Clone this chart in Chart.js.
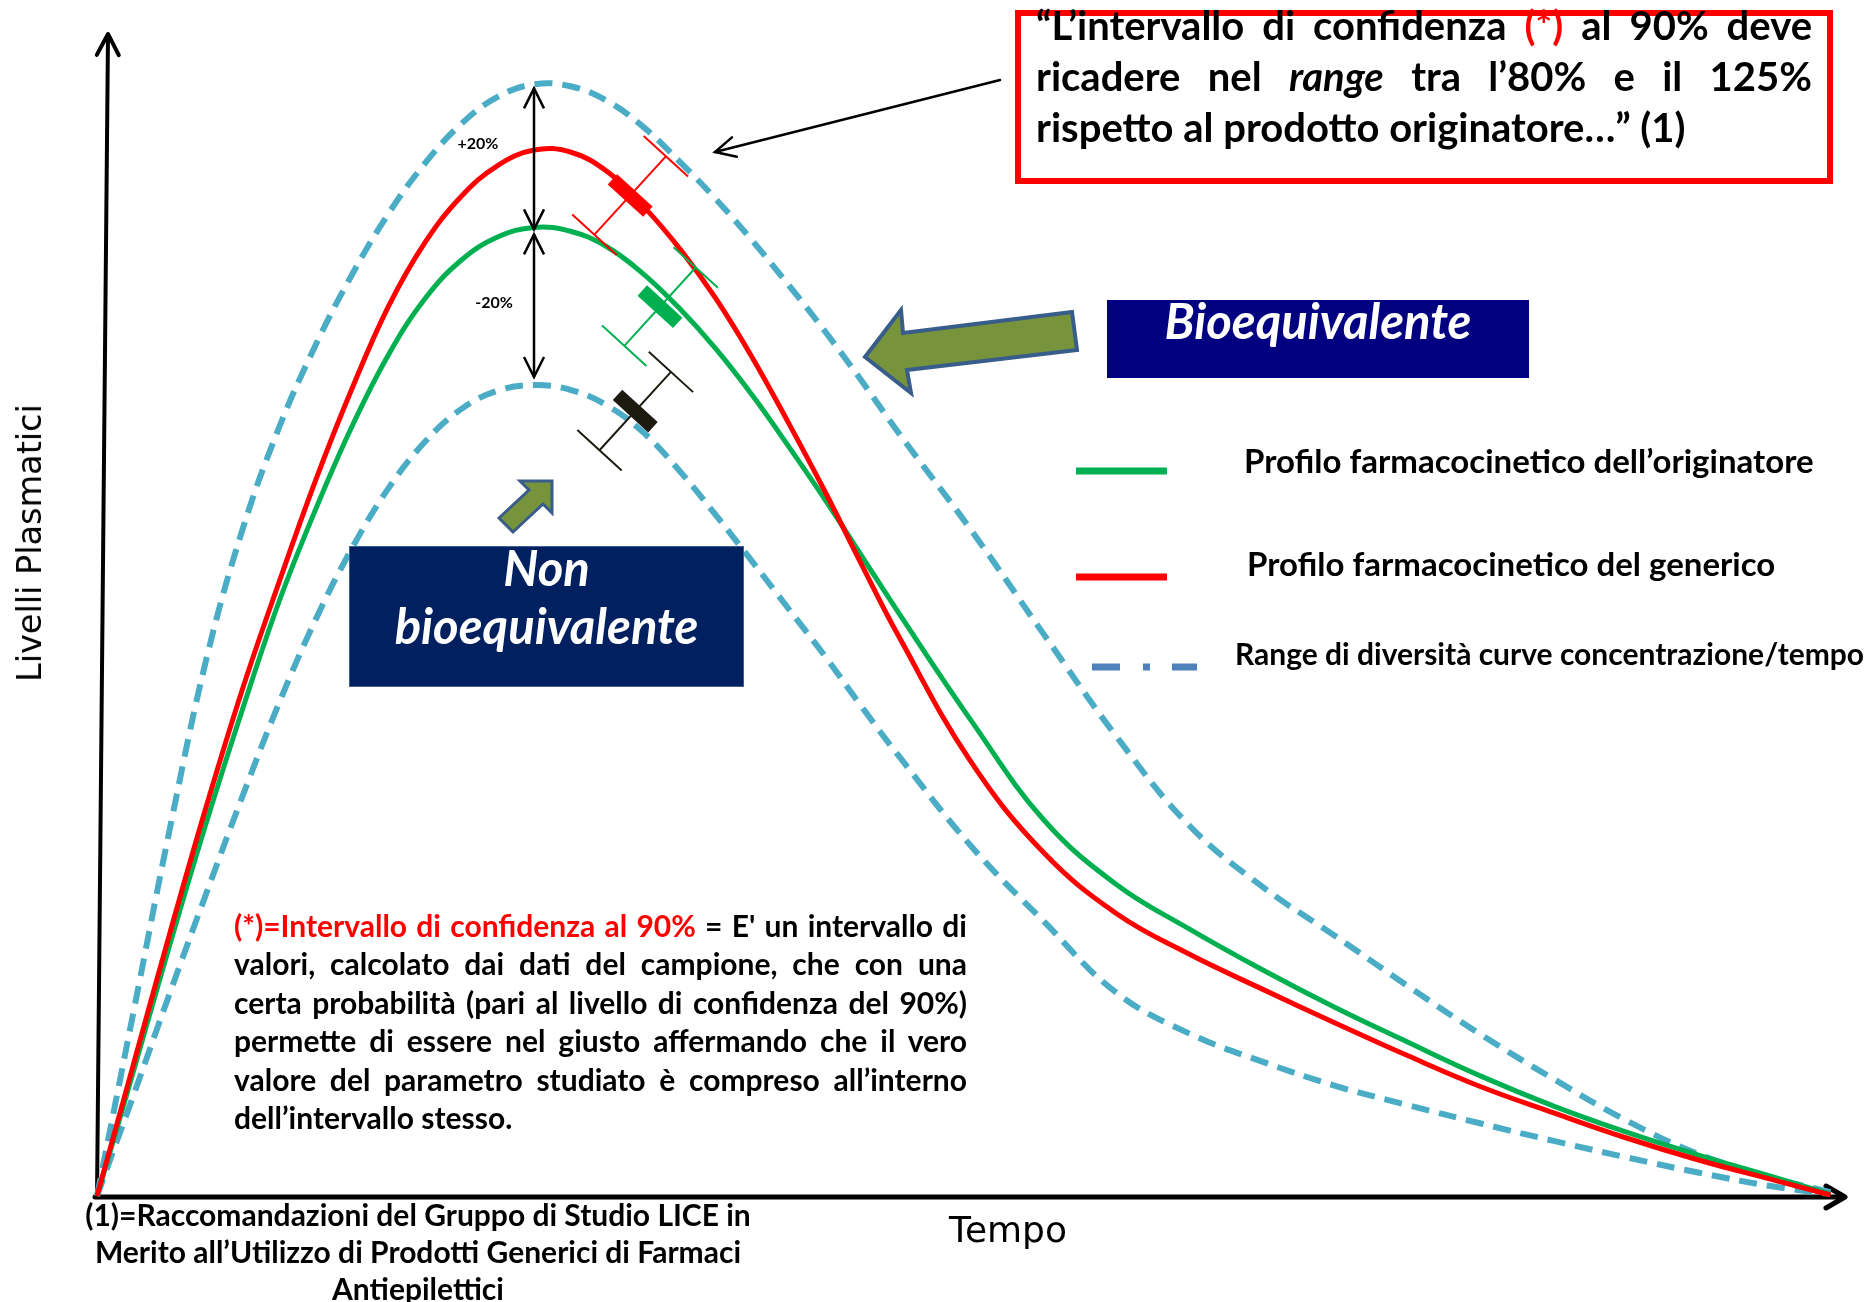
<!DOCTYPE html>
<html lang="it">
<head>
<meta charset="utf-8">
<title>Bioequivalenza: profili farmacocinetici</title>
<script src="https://cdn.jsdelivr.net/npm/chart.js@4.4.1/dist/chart.umd.min.js"></script>
<style>
  html, body { margin: 0; padding: 0; background: #fff; }
  #wrap { position: relative; width: 1866px; height: 1302px; overflow: hidden; font-family: Lato, "Open Sans", sans-serif; color: #000; }
  #c { position: absolute; left: 0; top: 0; }
  .abs { position: absolute; }
  .nw { white-space: nowrap; }
  .b { font-weight: 700; }
  .j { white-space: nowrap; }
  .red { color: #ff0000; }
  .callout { position: absolute; left: 1015px; top: 10px; width: 818px; height: 174px; box-sizing: border-box; border: 6px solid #ff0000; background: #fff; }
  .navy { position: absolute; color: #fff; font-weight: 700; font-style: italic; text-align: center; }
</style>
</head>
<body>
<div id="wrap">
  <canvas id="c" width="1866" height="1302"></canvas>

  <!-- citation box -->
  <div class="callout"></div>
  <div class="abs b" style="left:1036px; top:0px; width:776px; font-size:40px; line-height:51px;">
    <div class="j">“L’intervallo di confidenza <span class="red">(*)</span> al 90% deve</div>
    <div class="j">ricadere nel <i>range</i> tra l’80% e il 125%</div>
    <div class="nw">rispetto al prodotto originatore…” (1)</div>
  </div>

  <!-- verdict boxes -->
  <div class="navy" style="left:1107px; top:300px; width:422px; height:78px; background:#000080;">
    <div style="font-size:49px; line-height:49px; margin-top:-4px;">Bioequivalente</div>
  </div>
  <div class="navy" style="left:349px; top:546px; width:395px; height:141px; background:#002060; box-sizing:border-box; border:1px solid #3d5f93;">
    <div style="font-size:49px; line-height:58px; margin-top:-9px;">Non<br>bioequivalente</div>
  </div>

  <!-- legend labels -->
  <div class="abs b nw" style="left:1244px; top:440px; font-size:33px; line-height:40px;">Profilo farmacocinetico dell’originatore</div>
  <div class="abs b nw" style="left:1247px; top:543px; font-size:33px; line-height:40px;">Profilo farmacocinetico del generico</div>
  <div class="abs b nw" style="left:1235px; top:633px; font-size:30px; line-height:40px;">Range di diversità curve concentrazione/tempo</div>

  <!-- definition -->
  <div class="abs b" style="left:234px; top:906px; width:733px; font-size:30px; line-height:38.4px;">
    <div class="j"><span class="red">(*)=Intervallo di confidenza al 90%</span> = E' un intervallo di</div>
    <div class="j">valori, calcolato dai dati del campione, che con una</div>
    <div class="j">certa probabilità (pari al livello di confidenza del 90%)</div>
    <div class="j">permette di essere nel giusto affermando che il vero</div>
    <div class="j">valore del parametro studiato è compreso all’interno</div>
    <div class="nw">dell’intervallo stesso.</div>
  </div>

  <!-- reference note -->
  <div class="abs b nw" style="left:68px; top:1196px; width:700px; font-size:30px; line-height:37px; text-align:center;">
    (1)=Raccomandazioni del Gruppo di Studio LICE in<br>
    Merito all’Utilizzo di Prodotti Generici di Farmaci<br>
    Antiepilettici
  </div>

  <!-- axis titles -->
  <div class="abs nw" style="left:908px; top:1210px; width:200px; text-align:center; font-family:'DejaVu Sans', sans-serif; font-size:36px; line-height:40px;">Tempo</div>
  <div class="abs nw" style="left:30px; top:543px; transform:translate(-50%,-50%) rotate(-90deg); font-family:'DejaVu Sans', sans-serif; font-size:33.5px; line-height:40px;">Livelli Plasmatici</div>
</div>

<script>
// Sampling times (h) and plasma levels (originator peak ≈ 100)
const tempi = [0, 0.25, 0.5, 1, 1.5, 2, 2.5, 3, 3.5, 4, 4.5, 5, 5.5, 6, 6.5, 7, 7.5, 8, 8.5, 9,
               9.5, 10, 10.5, 11, 12, 13, 14, 15, 16, 17, 18, 19, 20, 21, 22, 23, 23.8];
const originatore = [0, 6.4, 12.9, 26.0, 38.6, 50.4, 61.5, 71.0, 79.6, 87.0, 92.8, 96.8, 99.2, 100.2, 99.8, 98.2, 95.4, 91.8, 87.6, 82.8,
                     77.5, 72.0, 66.2, 60.4, 49.2, 38.9, 32.2, 27.6, 23.4, 19.5, 15.9, 12.4, 9.3, 6.6, 4.2, 2.0, 0.2];
const generico = [0, 6.8, 13.6, 27.2, 40.3, 52.5, 63.5, 74.0, 83.5, 92.0, 98.6, 103.4, 106.6, 108.2, 108.0, 106.0, 102.4, 98.0, 92.8, 86.7,
                  79.9, 72.8, 65.3, 58.0, 44.9, 35.5, 29.2, 25.0, 21.4, 17.9, 14.5, 11.3, 8.6, 6.0, 3.7, 1.7, 0.1];
const limiteSuperiore = [0, 9.5, 19.0, 38.0, 55.5, 69.0, 79.5, 88.0, 95.3, 101.6, 106.8, 110.9, 113.7, 115.0, 114.8, 113.3, 110.6, 107.0, 103.1, 98.8,
                         94.2, 89.4, 84.3, 79.0, 68.9, 58.1, 47.5, 38.3, 32.0, 26.9, 21.7, 16.7, 12.1, 7.8, 4.3, 1.9, 0.4];
const limiteInferiore = [0, 5.2, 10.4, 21.0, 31.3, 41.4, 51.0, 59.6, 67.0, 73.2, 78.0, 81.4, 83.3, 83.9, 83.4, 81.8, 79.0, 75.0, 70.4, 65.6,
                         60.7, 55.8, 50.6, 45.6, 36.2, 28.4, 21.0, 16.8, 13.9, 11.4, 9.4, 7.5, 5.7, 4.0, 2.4, 1.0, 0.2];

// 90% confidence intervals: time and level of each interval centre
const ciNomi = ['generico', 'originatore', 'non bioequivalente'];
const ciTempi = [7.32, 7.73, 7.39];
const ciLivelli = [103.5, 92.0, 81.2];

// Peak-range labels
const etichetteRange = ['+20%', '-20%'];

const GREEN = '#00b050', RED = '#ff0000', AQUA = '#4bacc6';
const ciColori = [RED, GREEN, '#1d1b10'];

const pts = arr => tempi.map((t, i) => ({ x: t, y: arr[i] }));

function seg(ctx, x1, y1, x2, y2) {
  ctx.beginPath(); ctx.moveTo(x1, y1); ctx.lineTo(x2, y2); ctx.stroke();
}
// open arrow head pointing from (fx,fy) towards the tip (tx,ty)
function head(ctx, fx, fy, tx, ty, len, half) {
  const dx = tx - fx, dy = ty - fy, n = Math.hypot(dx, dy);
  const ux = dx / n, uy = dy / n, px = -uy, py = ux;
  const bx = tx - ux * len, by = ty - uy * len;
  ctx.beginPath();
  ctx.moveTo(bx + px * half, by + py * half);
  ctx.lineTo(tx, ty);
  ctx.lineTo(bx - px * half, by - py * half);
  ctx.stroke();
}
function poly(ctx, p, fill, stroke, lw) {
  ctx.beginPath();
  ctx.moveTo(p[0][0], p[0][1]);
  for (let i = 1; i < p.length; i++) ctx.lineTo(p[i][0], p[i][1]);
  ctx.closePath();
  ctx.fillStyle = fill; ctx.fill();
  ctx.lineWidth = lw; ctx.strokeStyle = stroke; ctx.lineJoin = 'miter'; ctx.stroke();
}

const decorazioni = {
  id: 'decorazioni',
  beforeDatasetsDraw(chart) {
    const { ctx, chartArea: a } = chart;
    ctx.save();
    ctx.strokeStyle = '#000';
    ctx.lineCap = 'round'; ctx.lineJoin = 'round';
    // time axis
    ctx.lineWidth = 5;
    seg(ctx, a.left - 2, a.bottom + 1, a.right - 2, a.bottom + 1);
    head(ctx, a.left, a.bottom + 1, a.right, a.bottom + 1, 19, 11);
    // level axis
    ctx.lineWidth = 4;
    seg(ctx, a.left, a.bottom + 1, a.left + 11, a.top - 1);
    head(ctx, a.left, a.bottom + 1, a.left + 11, a.top - 2, 21, 11);
    ctx.restore();
  },
  afterDatasetsDraw(chart) {
    const { ctx } = chart;
    const xs = chart.scales.x, ys = chart.scales.y;
    ctx.save();
    ctx.lineCap = 'butt';

    // ±20% arrows at the originator peak
    const ip = originatore.indexOf(Math.max(...originatore));
    const xp = xs.getPixelForValue(tempi[ip]);
    const ySup = ys.getPixelForValue(limiteSuperiore[ip]);
    const yOri = ys.getPixelForValue(originatore[ip]);
    const yInf = ys.getPixelForValue(limiteInferiore[ip]);
    const yGen = ys.getPixelForValue(generico[ip]);
    ctx.strokeStyle = '#000'; ctx.lineWidth = 2.5;
    [[ySup + 4, yOri + 2], [yOri + 7, yInf - 8]].forEach(([y1, y2]) => {
      seg(ctx, xp, y1, xp, y2);
      head(ctx, xp, y2, xp, y1, 20, 10);
      head(ctx, xp, y1, xp, y2, 20, 10);
    });
    ctx.fillStyle = '#000';
    ctx.font = 'bold 16px Lato, sans-serif';
    ctx.textAlign = 'center'; ctx.textBaseline = 'middle';
    ctx.fillText(etichetteRange[0], xp - 56, yGen - 6);
    ctx.fillText(etichetteRange[1], xp - 40, (yOri + yInf) / 2 - 3);

    // confidence-interval markers
    const d = [0.674, -0.739], p = [0.739, 0.674];
    ciTempi.forEach((t, k) => {
      const cx = xs.getPixelForValue(t), cy = ys.getPixelForValue(ciLivelli[k]);
      const col = ciColori[k];
      ctx.strokeStyle = col; ctx.lineWidth = 2;
      const L = 53, C = 30;
      const e1 = [cx + d[0] * L, cy + d[1] * L], e2 = [cx - d[0] * L, cy - d[1] * L];
      seg(ctx, e1[0], e1[1], e2[0], e2[1]);
      [e1, e2].forEach(e => seg(ctx, e[0] - p[0] * C, e[1] - p[1] * C, e[0] + p[0] * C, e[1] + p[1] * C));
      const B = 24, W = 7;
      ctx.beginPath();
      ctx.moveTo(cx - p[0] * B + d[0] * W, cy - p[1] * B + d[1] * W);
      ctx.lineTo(cx + p[0] * B + d[0] * W, cy + p[1] * B + d[1] * W);
      ctx.lineTo(cx + p[0] * B - d[0] * W, cy + p[1] * B - d[1] * W);
      ctx.lineTo(cx - p[0] * B - d[0] * W, cy - p[1] * B - d[1] * W);
      ctx.closePath();
      ctx.fillStyle = col; ctx.fill();
    });

    // pointer from the citation box
    ctx.strokeStyle = '#000'; ctx.lineWidth = 2.5; ctx.lineCap = 'round';
    seg(ctx, 1000, 80, 715, 152);
    head(ctx, 1000, 80, 715, 152, 20, 10);

    // block arrows
    poly(ctx, [[865, 357], [901, 310], [903, 333], [1072, 312], [1077, 350], [907, 370], [911, 393]], '#77933c', '#385d8a', 4);
    poly(ctx, [[499, 518], [529, 490], [520, 481], [552, 481], [552, 513], [543, 504], [513, 532]], '#77933c', '#385d8a', 3);

    // legend samples
    ctx.lineCap = 'butt';
    ctx.lineWidth = 7;
    ctx.strokeStyle = GREEN; seg(ctx, 1076, 471, 1167, 471);
    ctx.strokeStyle = RED; seg(ctx, 1076, 577, 1167, 577);
    ctx.strokeStyle = '#4f81bd';
    seg(ctx, 1092, 667, 1120, 667);
    seg(ctx, 1143, 667, 1150, 667);
    seg(ctx, 1172, 667, 1197, 667);
    ctx.restore();
  }
};

new Chart(document.getElementById('c'), {
  type: 'line',
  data: {
    datasets: [
      { label: 'Profilo farmacocinetico del generico', data: pts(generico), borderColor: RED, borderWidth: 5 },
      { label: 'Profilo farmacocinetico dell’originatore', data: pts(originatore), borderColor: GREEN, borderWidth: 5 },
      { label: 'Limite superiore', data: pts(limiteSuperiore), borderColor: AQUA, borderWidth: 6, borderDash: [18, 10] },
      { label: 'Limite inferiore', data: pts(limiteInferiore), borderColor: AQUA, borderWidth: 6, borderDash: [18, 10] }
    ]
  },
  options: {
    responsive: false,
    animation: false,
    devicePixelRatio: 1,
    layout: { padding: { left: 97, right: 21, top: 36, bottom: 106 } },
    datasets: { line: { tension: 0.4, pointRadius: 0, fill: false, clip: false, borderCapStyle: 'butt' } },
    scales: {
      x: { type: 'linear', min: 0, max: 24, display: false },
      y: { type: 'linear', min: 0, max: 120, display: false }
    },
    plugins: { legend: { display: false }, tooltip: { enabled: false } },
    events: []
  },
  plugins: [decorazioni]
});

// justify single text lines to their container width
function giustifica() {
  document.querySelectorAll('.j').forEach(el => {
    const target = el.parentElement.clientWidth;
    el.style.wordSpacing = '0px';
    el.style.display = 'inline-block';
    const w = el.getBoundingClientRect().width;
    const gaps = (el.textContent.match(/ /g) || []).length;
    el.style.display = 'block';
    if (gaps) el.style.wordSpacing = ((target - w) / gaps) + 'px';
  });
}
giustifica();
if (document.fonts && document.fonts.ready) document.fonts.ready.then(giustifica);
</script>
</body>
</html>
